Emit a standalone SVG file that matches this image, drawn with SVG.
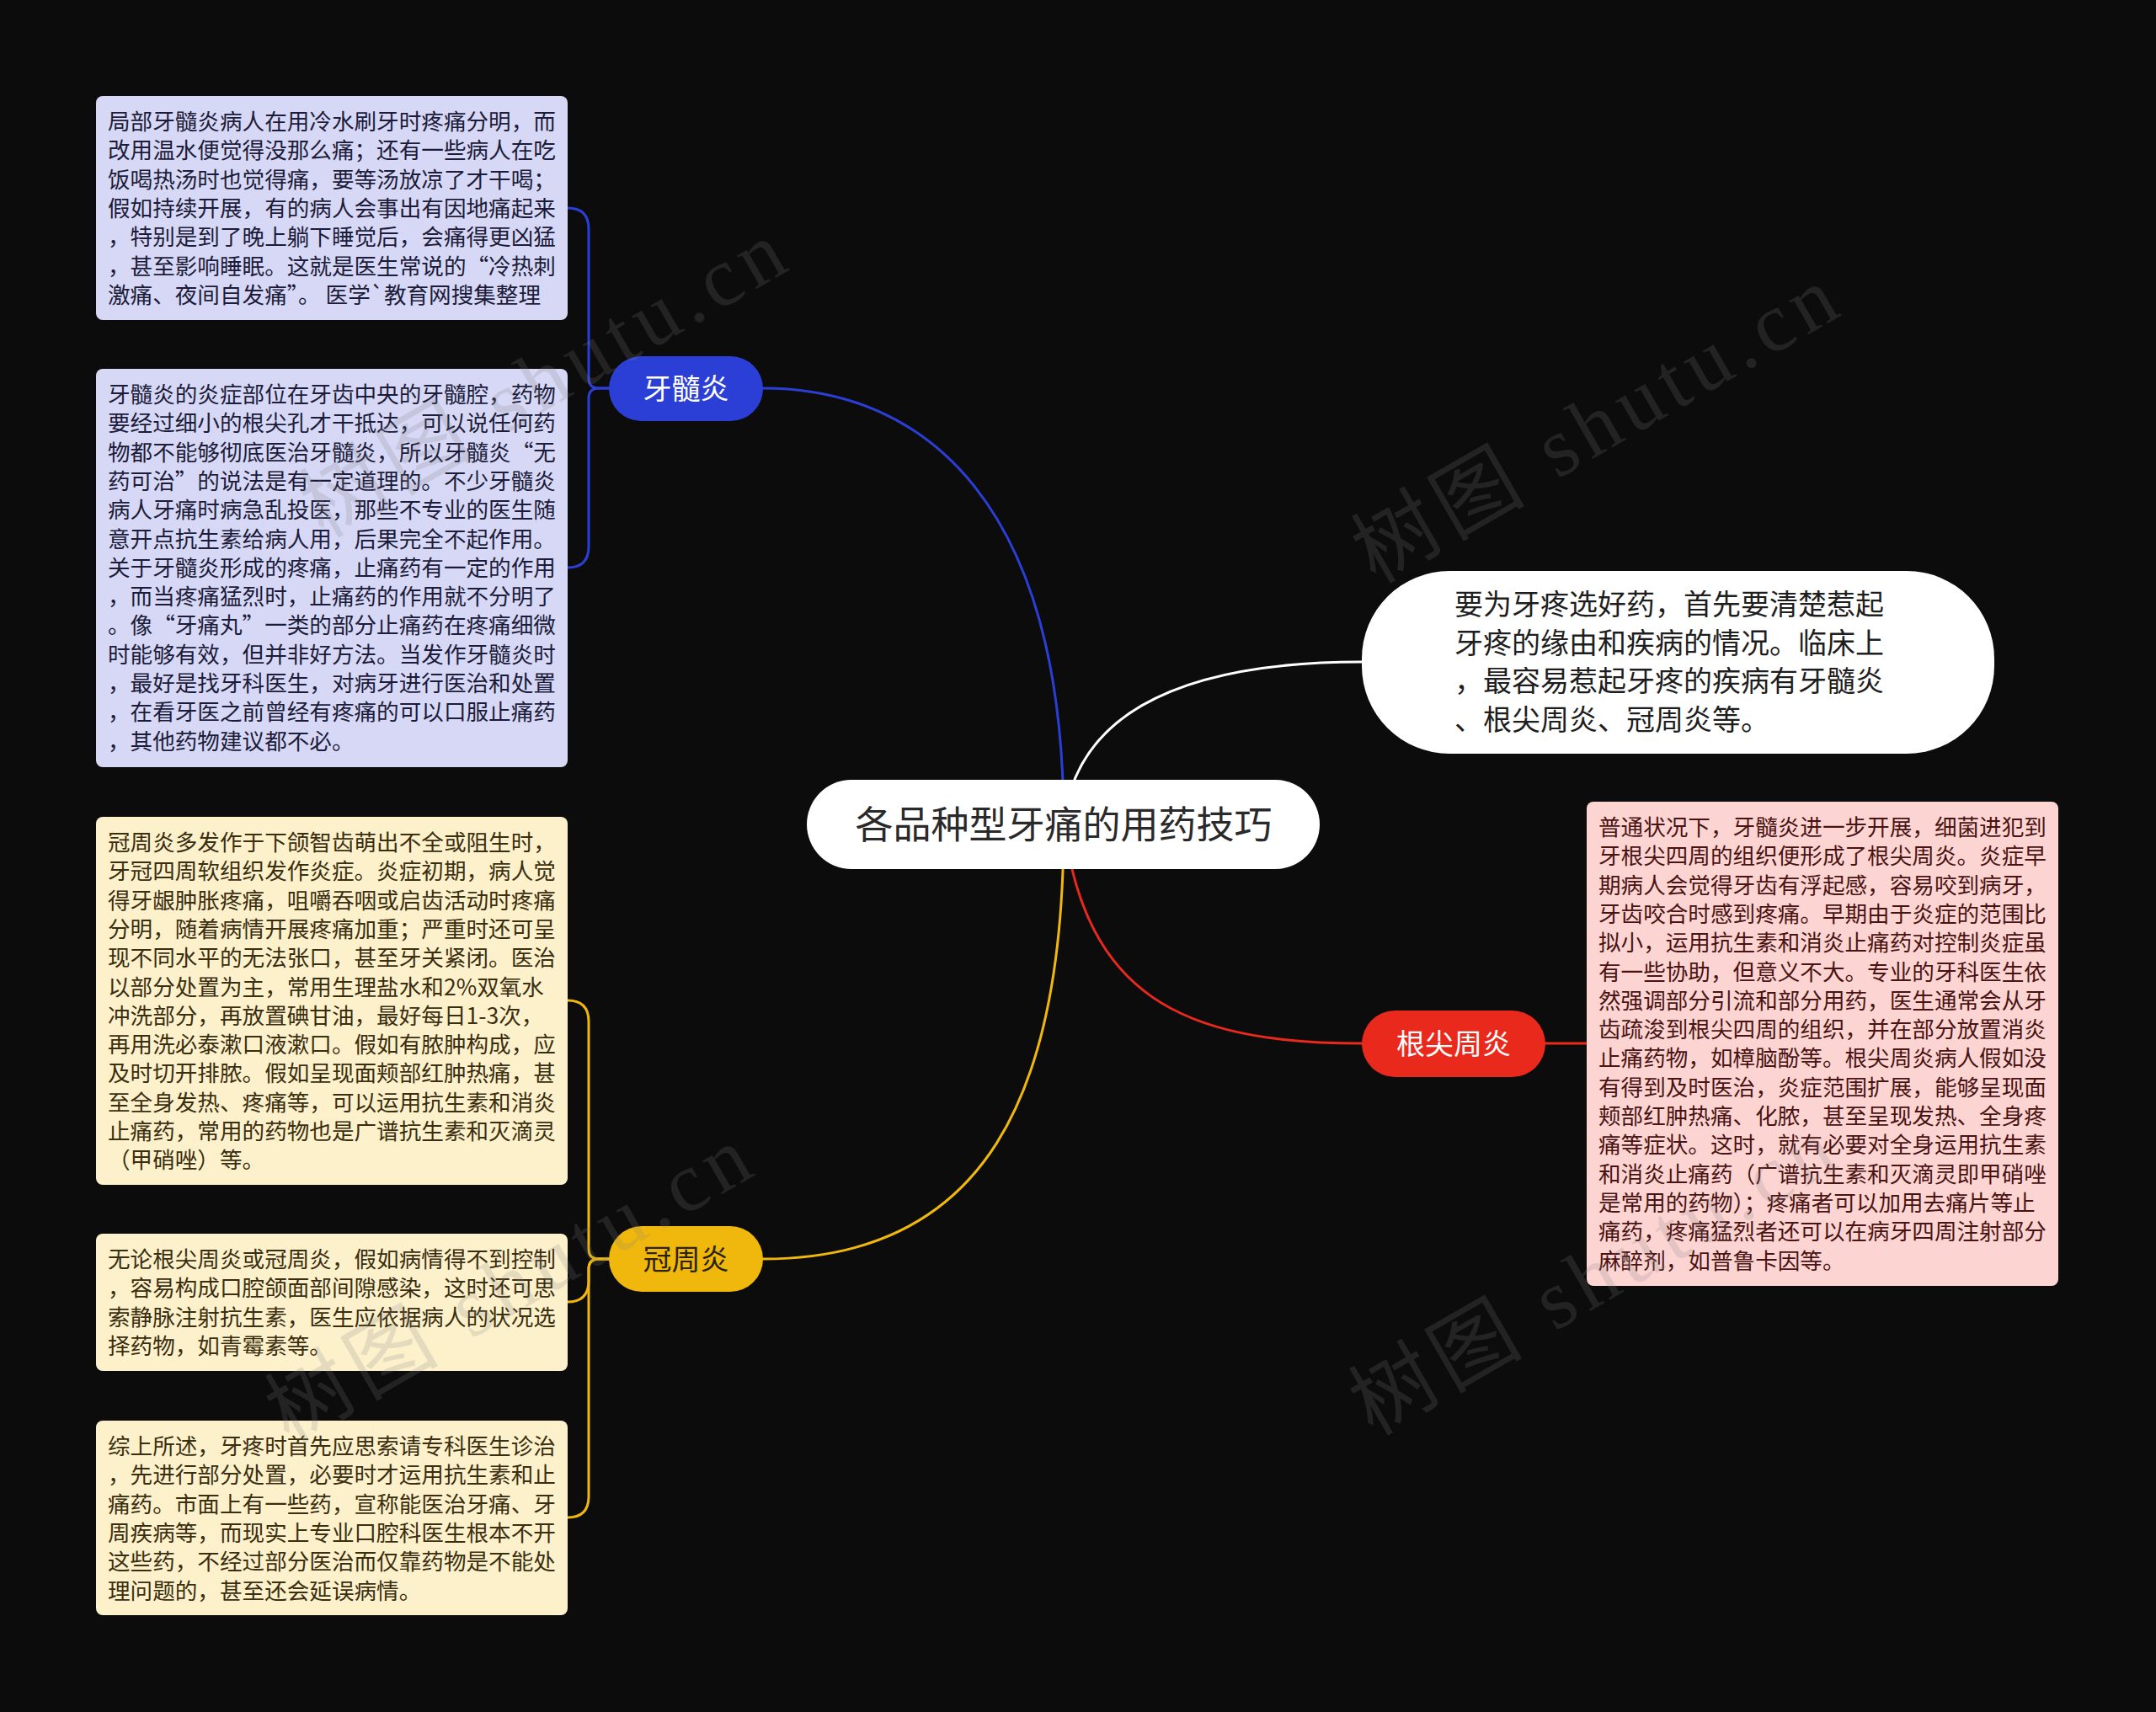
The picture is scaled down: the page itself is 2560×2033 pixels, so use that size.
<svg xmlns="http://www.w3.org/2000/svg" width="2560" height="2033" viewBox="0 0 2560 2033">
<style>
.t{font-family:"Noto Sans CJK SC","Noto Sans",sans-serif}
.body{font-size:26.6px}
.lav rect{fill:#d6d8f6}
.lav text{fill:#1c1c3a}
.cre rect{fill:#fdf1cc}
.cre text{fill:#3a2e10}
.pink rect{fill:#fcd5d2}
.pink text{fill:#4a1313}
.ln{fill:none;stroke-width:3;stroke-linecap:round}
.wm{font-family:"Liberation Serif","Noto Sans CJK SC",serif;font-size:100px;fill:#808080;fill-opacity:0.2;letter-spacing:8px}
</style>
<rect width="2560" height="2033" fill="#0c0c0c"/>

<g id="connectors">
<path class="ln" stroke="#2b3fd6" d="M1263,979 C1263,600 1100,461 906,461"/>
<path class="ln" stroke="#ffffff" d="M1263,979 C1275,860 1380,786 1617,786"/>
<path class="ln" stroke="#e8291c" d="M1263,979 C1290,1180 1400,1239 1617,1239"/>
<path class="ln" stroke="#f0b80c" d="M1263,979 C1263,1300 1170,1495 906,1495"/>
<path class="ln" stroke="#2b3fd6" d="M723,461 L711,461 Q699,461 699,449 V272 Q699,247 674,247"/>
<path class="ln" stroke="#2b3fd6" d="M723,461 L711,461 Q699,461 699,473 V649 Q699,674 674,674"/>
<path class="ln" stroke="#f0b80c" d="M723,1495 L711,1495 Q699,1495 699,1483 V1213 Q699,1188 674,1188"/>
<path class="ln" stroke="#f0b80c" d="M723,1495 L711,1495 Q699,1495 699,1507 V1521 Q699,1546 674,1546"/>
<path class="ln" stroke="#f0b80c" d="M723,1495 L711,1495 Q699,1495 699,1507 V1777 Q699,1802 674,1802"/>
<path class="ln" stroke="#e8291c" d="M1835,1239 H1884"/>
</g>

<g id="root">
<rect x="958" y="926" width="609" height="106" rx="53" fill="#ffffff"/>
<text class="t" x="1263" y="996" font-size="45" fill="#2a2a2a" text-anchor="middle">各品种型牙痛的用药技巧</text>
</g>

<g id="intro">
<rect x="1617" y="678" width="751" height="217" rx="104" fill="#ffffff"/>
<text class="t" font-size="34" fill="#1e1e1e">
<tspan x="1727" y="730">要为牙疼选好药，首先要清楚惹起</tspan>
<tspan x="1727" y="776">牙疼的缘由和疾病的情况。临床上</tspan>
<tspan x="1727" y="821">，最容易惹起牙疼的疾病有牙髓炎</tspan>
<tspan x="1727" y="867">、根尖周炎、冠周炎等。</tspan>
</text>
</g>

<g id="yasuiyan">
<rect x="723" y="423" width="183" height="77" rx="38.5" fill="#2b3fd6"/>
<text class="t" x="814.5" y="474" font-size="34" fill="#ffffff" text-anchor="middle">牙髓炎</text>
</g>

<g id="guanzhouyan">
<rect x="723" y="1456" width="183" height="78" rx="39" fill="#f0b80c"/>
<text class="t" x="814.5" y="1508" font-size="34" fill="#2a2208" text-anchor="middle">冠周炎</text>
</g>

<g id="genjianzhouyan">
<rect x="1617" y="1200" width="218" height="79" rx="39.5" fill="#e8291c"/>
<text class="t" x="1726" y="1252" font-size="34" fill="#ffffff" text-anchor="middle">根尖周炎</text>
</g>

<g id="box-yasui-1" class="lav">
<rect x="114" y="114" width="560" height="266" rx="8"/>
<text class="t body">
<tspan x="128" y="154">局部牙髓炎病人在用冷水刷牙时疼痛分明，而</tspan>
<tspan x="128" y="188.3">改用温水便觉得没那么痛；还有一些病人在吃</tspan>
<tspan x="128" y="222.6">饭喝热汤时也觉得痛，要等汤放凉了才干喝；</tspan>
<tspan x="128" y="256.9">假如持续开展，有的病人会事出有因地痛起来</tspan>
<tspan x="128" y="291.2">，特别是到了晚上躺下睡觉后，会痛得更凶猛</tspan>
<tspan x="128" y="325.5">，甚至影响睡眠。这就是医生常说的“冷热刺</tspan>
<tspan x="128" y="359.8">激痛、夜间自发痛”。 医学`教育网搜集整理</tspan>
</text>
</g>

<g id="box-yasui-2" class="lav">
<rect x="114" y="438" width="560" height="473" rx="8"/>
<text class="t body">
<tspan x="128" y="478">牙髓炎的炎症部位在牙齿中央的牙髓腔，药物</tspan>
<tspan x="128" y="512.3">要经过细小的根尖孔才干抵达，可以说任何药</tspan>
<tspan x="128" y="546.6">物都不能够彻底医治牙髓炎，所以牙髓炎“无</tspan>
<tspan x="128" y="580.9">药可治”的说法是有一定道理的。不少牙髓炎</tspan>
<tspan x="128" y="615.2">病人牙痛时病急乱投医，那些不专业的医生随</tspan>
<tspan x="128" y="649.5">意开点抗生素给病人用，后果完全不起作用。</tspan>
<tspan x="128" y="683.8">关于牙髓炎形成的疼痛，止痛药有一定的作用</tspan>
<tspan x="128" y="718.1">，而当疼痛猛烈时，止痛药的作用就不分明了</tspan>
<tspan x="128" y="752.4">。像“牙痛丸”一类的部分止痛药在疼痛细微</tspan>
<tspan x="128" y="786.7">时能够有效，但并非好方法。当发作牙髓炎时</tspan>
<tspan x="128" y="821">，最好是找牙科医生，对病牙进行医治和处置</tspan>
<tspan x="128" y="855.3">，在看牙医之前曾经有疼痛的可以口服止痛药</tspan>
<tspan x="128" y="889.6">，其他药物建议都不必。</tspan>
</text>
</g>

<g id="box-guan-1" class="cre">
<rect x="114" y="970" width="560" height="437" rx="8"/>
<text class="t body">
<tspan x="128" y="1010">冠周炎多发作于下颌智齿萌出不全或阻生时，</tspan>
<tspan x="128" y="1044.3">牙冠四周软组织发作炎症。炎症初期，病人觉</tspan>
<tspan x="128" y="1078.6">得牙龈肿胀疼痛，咀嚼吞咽或启齿活动时疼痛</tspan>
<tspan x="128" y="1112.9">分明，随着病情开展疼痛加重；严重时还可呈</tspan>
<tspan x="128" y="1147.2">现不同水平的无法张口，甚至牙关紧闭。医治</tspan>
<tspan x="128" y="1181.5">以部分处置为主，常用生理盐水和2%双氧水</tspan>
<tspan x="128" y="1215.8">冲洗部分，再放置碘甘油，最好每日1-3次，</tspan>
<tspan x="128" y="1250.1">再用洗必泰漱口液漱口。假如有脓肿构成，应</tspan>
<tspan x="128" y="1284.4">及时切开排脓。假如呈现面颊部红肿热痛，甚</tspan>
<tspan x="128" y="1318.7">至全身发热、疼痛等，可以运用抗生素和消炎</tspan>
<tspan x="128" y="1353">止痛药，常用的药物也是广谱抗生素和灭滴灵</tspan>
<tspan x="128" y="1387.3">（甲硝唑）等。</tspan>
</text>
</g>

<g id="box-guan-2" class="cre">
<rect x="114" y="1465" width="560" height="163" rx="8"/>
<text class="t body">
<tspan x="128" y="1505">无论根尖周炎或冠周炎，假如病情得不到控制</tspan>
<tspan x="128" y="1539.3">，容易构成口腔颌面部间隙感染，这时还可思</tspan>
<tspan x="128" y="1573.6">索静脉注射抗生素，医生应依据病人的状况选</tspan>
<tspan x="128" y="1607.9">择药物，如青霉素等。</tspan>
</text>
</g>

<g id="box-guan-3" class="cre">
<rect x="114" y="1687" width="560" height="231" rx="8"/>
<text class="t body">
<tspan x="128" y="1727">综上所述，牙疼时首先应思索请专科医生诊治</tspan>
<tspan x="128" y="1761.3">，先进行部分处置，必要时才运用抗生素和止</tspan>
<tspan x="128" y="1795.6">痛药。市面上有一些药，宣称能医治牙痛、牙</tspan>
<tspan x="128" y="1829.9">周疾病等，而现实上专业口腔科医生根本不开</tspan>
<tspan x="128" y="1864.2">这些药，不经过部分医治而仅靠药物是不能处</tspan>
<tspan x="128" y="1898.5">理问题的，甚至还会延误病情。</tspan>
</text>
</g>

<g id="box-genjian" class="pink">
<rect x="1884" y="952" width="560" height="575" rx="8"/>
<text class="t body">
<tspan x="1898" y="992">普通状况下，牙髓炎进一步开展，细菌进犯到</tspan>
<tspan x="1898" y="1026.3">牙根尖四周的组织便形成了根尖周炎。炎症早</tspan>
<tspan x="1898" y="1060.6">期病人会觉得牙齿有浮起感，容易咬到病牙，</tspan>
<tspan x="1898" y="1094.9">牙齿咬合时感到疼痛。早期由于炎症的范围比</tspan>
<tspan x="1898" y="1129.2">拟小，运用抗生素和消炎止痛药对控制炎症虽</tspan>
<tspan x="1898" y="1163.5">有一些协助，但意义不大。专业的牙科医生依</tspan>
<tspan x="1898" y="1197.8">然强调部分引流和部分用药，医生通常会从牙</tspan>
<tspan x="1898" y="1232.1">齿疏浚到根尖四周的组织，并在部分放置消炎</tspan>
<tspan x="1898" y="1266.4">止痛药物，如樟脑酚等。根尖周炎病人假如没</tspan>
<tspan x="1898" y="1300.7">有得到及时医治，炎症范围扩展，能够呈现面</tspan>
<tspan x="1898" y="1335">颊部红肿热痛、化脓，甚至呈现发热、全身疼</tspan>
<tspan x="1898" y="1369.3">痛等症状。这时，就有必要对全身运用抗生素</tspan>
<tspan x="1898" y="1403.6">和消炎止痛药（广谱抗生素和灭滴灵即甲硝唑</tspan>
<tspan x="1898" y="1437.9">是常用的药物）；疼痛者可以加用去痛片等止</tspan>
<tspan x="1898" y="1472.2">痛药，疼痛猛烈者还可以在病牙四周注射部分</tspan>
<tspan x="1898" y="1506.5">麻醉剂，如普鲁卡因等。</tspan>
</text>
</g>

<g id="watermarks">
<text class="wm" x="1633" y="694" transform="rotate(-30 1633 694)">树图 shutu.cn</text>
<text class="wm" x="384" y="640" transform="rotate(-30 384 640)">树图 shutu.cn</text>
<text class="wm" x="343" y="1715" transform="rotate(-30 343 1715)">树图 shutu.cn</text>
<text class="wm" x="1630" y="1706" transform="rotate(-30 1630 1706)">树图 shutu.cn</text>
</g>
</svg>
